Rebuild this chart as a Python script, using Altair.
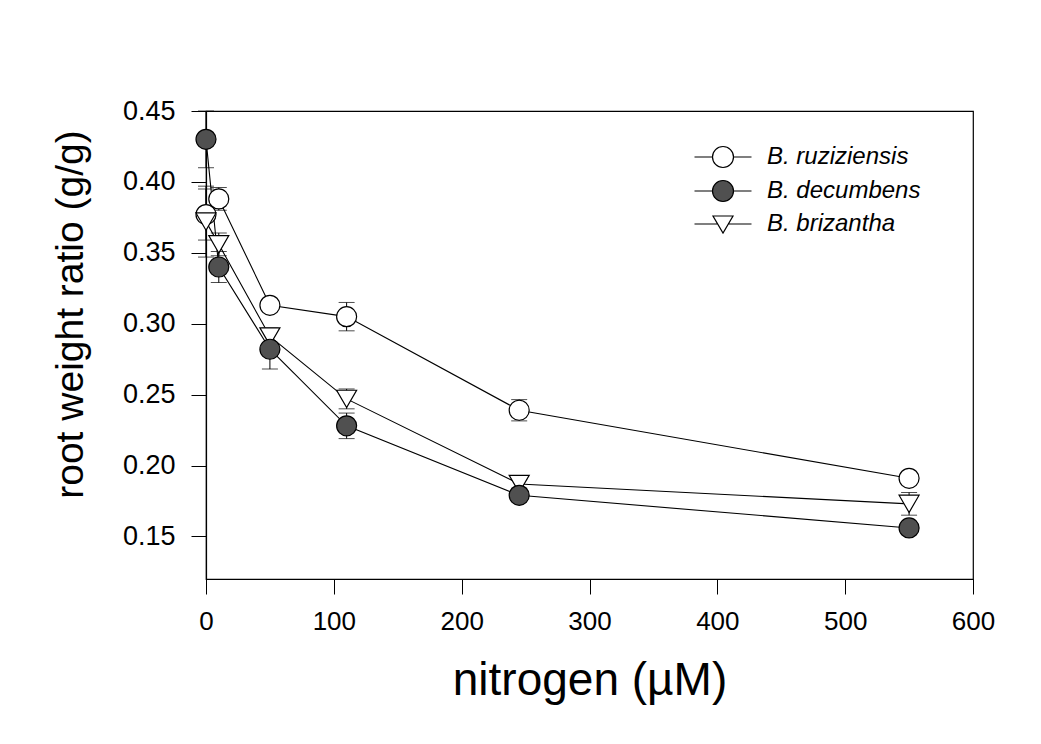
import altair as alt
import pandas as pd

# ---- data ----
nitrogen = [0, 10, 50, 110, 245, 550]
series_names = ["B. ruziziensis", "B. decumbens", "B. brizantha"]

ruz = [0.377, 0.388, 0.313, 0.305, 0.239, 0.191]
ruz_err = [0.018, 0.008, 0.004, 0.010, 0.0075, 0.004]
dec = [0.430, 0.340, 0.282, 0.228, 0.179, 0.156]
dec_err = [0.020, 0.011, 0.014, 0.009, 0.003, 0.004]
bri = [0.372, 0.356, 0.291, 0.247, 0.187, 0.173]
bri_err = [0.025, 0.008, 0.006, 0.007, 0.003, 0.008]

y_ticks = [0.15, 0.20, 0.25, 0.30, 0.35, 0.40, 0.45]
x_ticks = [0, 100, 200, 300, 400, 500, 600]

rows = []
for name, vals, errs in zip(series_names, [ruz, dec, bri], [ruz_err, dec_err, bri_err]):
    for n, v, e in zip(nitrogen, vals, errs):
        rows.append({"series": name, "nitrogen": n, "ratio": v, "lo": v - e, "hi": v + e})
df = pd.DataFrame(rows)

FONT = "Liberation Sans"
DARK = "#505050"

x_enc = alt.X("nitrogen:Q",
              scale=alt.Scale(domain=[0, 600], nice=False, zero=False),
              axis=alt.Axis(values=x_ticks, title="nitrogen (µM)", format="d",
                            labelFlush=False))
y_scale = alt.Scale(domain=[0.12, 0.45], nice=False, zero=False)
y_axis = alt.Axis(values=y_ticks, format=".2f", title="root weight ratio (g/g)",
                  labelFlush=False, titleY=203)

base = alt.Chart(df)

lines = base.mark_line(color="black", strokeWidth=1.1).encode(
    x=x_enc, y=alt.Y("ratio:Q", scale=y_scale, axis=y_axis), detail="series:N")

err_rule = base.mark_rule(color="black", strokeWidth=1).encode(
    x="nitrogen:Q", y="lo:Q", y2="hi:Q")
cap_lo = base.mark_tick(color="black", orient="horizontal", size=16, thickness=1).encode(
    x="nitrogen:Q", y="lo:Q")
cap_hi = base.mark_tick(color="black", orient="horizontal", size=16, thickness=1).encode(
    x="nitrogen:Q", y="hi:Q")

def markers(name, shape, fill):
    return base.transform_filter(alt.datum.series == name).mark_point(
        shape=shape, size=400, filled=True, fill=fill, stroke="black",
        strokeWidth=1.2, opacity=1).encode(x="nitrogen:Q", y="ratio:Q")

m_ruz = markers("B. ruziziensis", "circle", "white")
m_bri = markers("B. brizantha", "triangle-down", "white")
m_dec = markers("B. decumbens", "circle", DARK)

# legend symbols: line through marker (custom paths)
circ_path = ("M-2.85,0L-1.05,0M1.05,0L2.85,0"
             "M-1.05,0A1.05,1.05 0 1,0 1.05,0A1.05,1.05 0 1,0 -1.05,0Z")
tri_path = "M-2.85,0L-0.56,0M0.56,0L2.85,0M-1,-0.8L1,-0.8L0,0.9Z"

leg = alt.Legend(title=None, orient="none", legendX=487, legendY=34,
                 symbolSize=400, symbolOffset=18, labelOffset=32,
                 symbolStrokeWidth=1.2,
                 labelFont=FONT, labelFontSize=24, labelFontStyle="italic",
                 labelColor="black", rowPadding=8)

legend_layer = base.transform_filter("datum.nitrogen < 0").mark_point(
    filled=True, size=400, strokeWidth=1.2, opacity=1).encode(
    x="nitrogen:Q", y="ratio:Q",
    shape=alt.Shape("series:N", scale=alt.Scale(domain=series_names,
                    range=[circ_path, circ_path, tri_path]), legend=leg),
    fill=alt.Fill("series:N", scale=alt.Scale(domain=series_names,
                  range=["white", DARK, "white"]), legend=leg),
    stroke=alt.Stroke("series:N", scale=alt.Scale(domain=series_names,
                      range=["black", "black", "black"]), legend=leg))

chart = alt.layer(lines, err_rule, cap_lo, cap_hi, m_ruz, m_bri, m_dec, legend_layer).properties(
    width=767, height=468,
    padding={"left": 198, "top": 103, "right": 50, "bottom": 150},
    autosize=alt.AutoSizeParams(type="none"),
    background="white",
).configure_view(stroke="black", strokeWidth=1.2).configure_axis(
    grid=False, domainColor="black", domainWidth=1.2, tickColor="black", tickWidth=1,
    tickSize=15, labelFont=FONT, labelColor="black",
    titleFont=FONT, titleFontWeight="normal", titleColor="black",
).configure_axisX(labelFontSize=26, labelPadding=14, titleFontSize=46, titlePadding=24
).configure_axisY(labelFontSize=27, labelPadding=16, titleFontSize=39, titlePadding=32)

chart.save("out.html", embed_options={"renderer": "svg", "actions": False})
